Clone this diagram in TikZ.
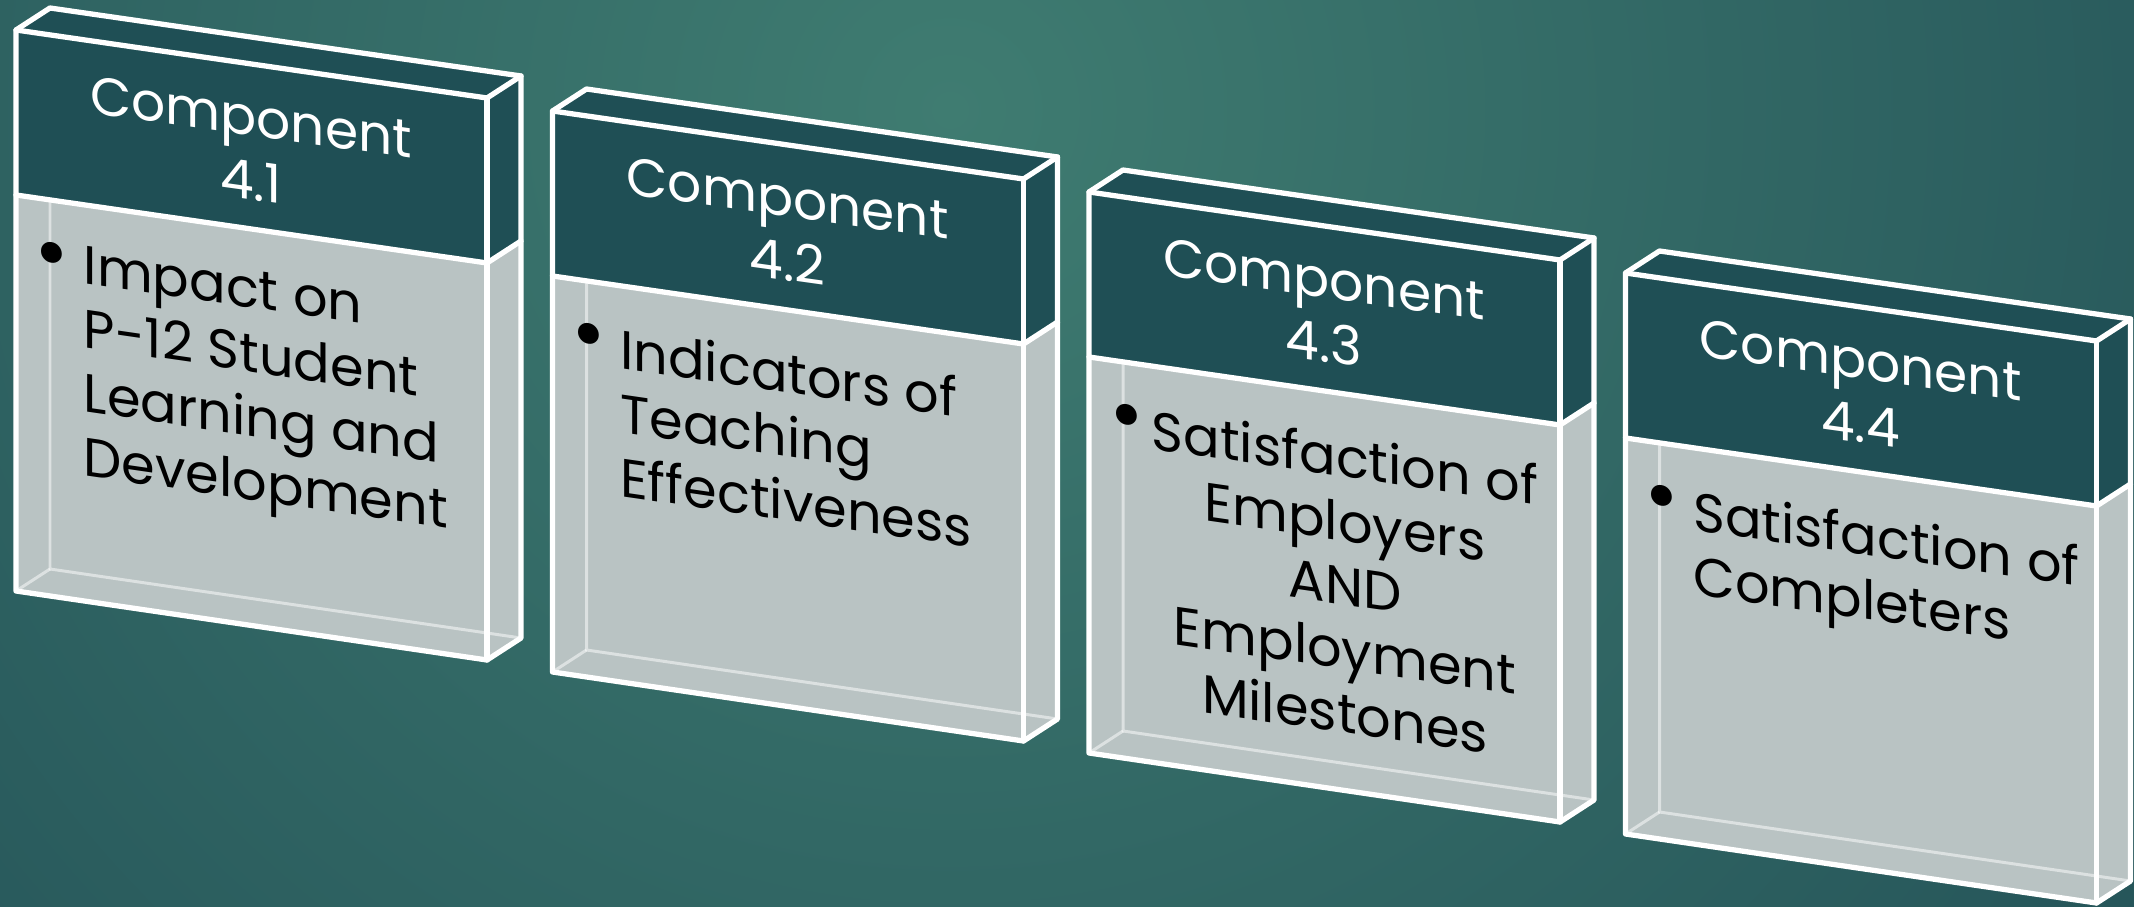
\documentclass[tikz,border=0pt]{standalone}
\usepackage{fontspec}
\setmainfont{Poppins}
\definecolor{bgmid}{HTML}{3F7C71}
\definecolor{bgdark}{HTML}{173F4C}
\definecolor{headfill}{HTML}{1F4F55}
\definecolor{bodyfill}{HTML}{B9C3C3}
\tikzset{
  outline/.style={draw=white, line width=1.5pt, line join=round, line cap=round},
  innerline/.style={draw=white, draw opacity=0.5, line width=0.85pt},
  headtxt/.style={text=white, align=center, inner sep=0pt, yslant=-0.14, font=\fontsize{15.2}{18.2}\selectfont},
  bodytxt/.style={text=black, inner sep=0pt, yslant=-0.145, font=\fontsize{15.4}{18.2}\selectfont, anchor=north west, align=left},
  bodyctr/.style={bodytxt, anchor=north, align=center},
  bul/.style={text=black, inner sep=0pt, yslant=-0.145, font=\fontsize{24}{24}\selectfont},
}
\newcommand\drawbox{%
  \fill[headfill] (16,30) -- (50,8) -- (521,76) -- (521,241) -- (487,263) -- (16,195) -- cycle;
  \fill[bodyfill] (16,195) -- (487,263) -- (521,241) -- (521,638) -- (487,660) -- (16,591) -- cycle;
  \draw[innerline] (50,200) -- (50,569) -- (521,638);
  \draw[innerline] (16,591) -- (50,569);
  \draw[outline] (16,30) -- (50,8) -- (521,76) -- (521,638) -- (487,660) -- (16,591) -- cycle;
  \draw[outline] (16,30) -- (487,98) -- (521,76);
  \draw[outline] (487,98) -- (487,660);
  \draw[outline] (16,195) -- (487,263) -- (521,241);
}
\begin{document}
\begin{tikzpicture}[x=0.01cm,y=-0.01cm]
\useasboundingbox (0,0) rectangle (2134,907);
\begin{scope}
  \clip (0,0) rectangle (2134,907);
  \fill[bgdark] (0,0) rectangle (2134,907);
  \shade[inner color=bgmid, outer color=bgdark] (950,110) circle (2250);
\end{scope}
% Box 1
\begin{scope}[shift={(0,0)}]
  \drawbox
  \node[headtxt] (h1) at (251,149) {Component\\4.1};
  \node[bul] (u1) at (52,262) {\textbullet};
  \node[bodytxt] (t1) at (83,245) {Impact on\\P-12 Student\\Learning and\\Development};
\end{scope}
% Box 2
\begin{scope}[shift={(536.5,81)}]
  \drawbox
  \node[headtxt] (h2) at (251,149) {Component\\4.2};
  \node[bul] (u2) at (52,262) {\textbullet};
  \node[bodytxt] (t2) at (83,245) {Indicators of\\Teaching\\Effectiveness};
\end{scope}
% Box 3
\begin{scope}[shift={(1073,162)}]
  \drawbox
  \node[headtxt] (h3) at (251,149) {Component\\4.3};
  \node[bul] (u3) at (54,262) {\textbullet};
  \node[bodyctr] (t3) at (272,273) {Satisfaction of\\Employers\\AND\\Employment\\Milestones};
\end{scope}
% Box 4
\begin{scope}[shift={(1609.5,243)}]
  \drawbox
  \node[headtxt] (h4) at (251,149) {Component\\4.4};
  \node[bul] (u4) at (52,262) {\textbullet};
  \node[bodytxt] (t4) at (83,245) {Satisfaction of\\Completers};
\end{scope}
\end{tikzpicture}
\end{document}
